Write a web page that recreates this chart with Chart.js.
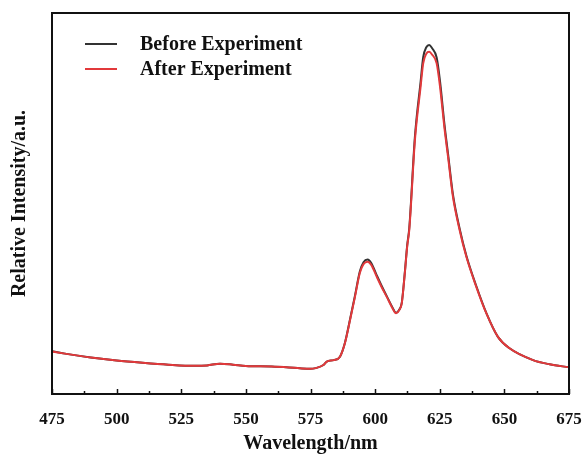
<!DOCTYPE html>
<html lang="en">
<head>
  <meta charset="UTF-8" />
  <title>Emission Spectrum</title>
  <script src="https://cdn.jsdelivr.net/npm/chart.js"></script>
  <style>
    body { margin: 0; background: #fff; }
    #wrap { width: 583px; height: 459px; position: relative; }
  </style>
</head>
<body>
  <div id="wrap"><canvas id="spectrum" width="583" height="459"></canvas></div>
  <script>
    const wavelength = [475, 480, 490, 500, 510, 520, 530, 535, 540, 545, 550, 560, 570, 575, 577, 580,
      581.3, 584, 586.4, 588.3, 590.3, 592.2, 594.1, 595.5, 597.1, 598.5, 600.6, 602.5, 604.5, 606.5,
      608.1, 609.3, 610.3, 611.5, 612.4, 613.2, 615.4, 617.6, 618.6, 619.8, 620.9, 622, 623.8, 625.1,
      626.9, 628.2, 630.1, 632.7, 635.3, 639.1, 643, 647.5, 652, 661.1, 667.5, 675];
    const beforeExp = [11.2, 10.6, 9.6, 8.8, 8.2, 7.7, 7.4, 7.5, 7.95, 7.7, 7.35, 7.2, 6.8, 6.6, 6.8, 7.6,
      8.5, 8.9, 9.8, 13.4, 19.6, 25.8, 32.2, 34.6, 35.3, 34.4, 31.2, 28.4, 25.7, 23, 21.3, 22.1, 23.9,
      32, 39, 43.5, 67.6, 82, 88.4, 91, 91.6, 90.8, 88.3, 82.1, 70.3, 63.1, 52.4, 43.4, 36.3, 28.4, 21.3,
      15, 12, 8.9, 7.8, 7];
    const afterExp = [11.15, 10.6, 9.6, 8.8, 8.2, 7.7, 7.4, 7.5, 7.95, 7.7, 7.35, 7.2, 6.8, 6.6, 6.8, 7.6,
      8.5, 8.9, 9.8, 13.3, 19.4, 25.5, 31.8, 34.1, 34.7, 33.9, 30.8, 28.1, 25.5, 22.8, 21.2, 22, 23.8,
      31.8, 38.7, 43, 66.7, 80.7, 86.8, 89.3, 89.8, 89.1, 86.8, 80.7, 69.3, 62.3, 51.8, 43, 36, 28.2, 21.2,
      15, 12, 8.9, 7.8, 7];
    const seriesNames = ["Before Experiment", "After Experiment"];
    const seriesColors = ["#333333", "#e2393b"];
    const xTicks = [475, 500, 525, 550, 575, 600, 625, 650, 675];

    const serif = "'Liberation Serif', 'Times New Roman', serif";

    // frame, inward ticks and legend inside the plot
    const decor = {
      id: "decor",
      afterDatasetsDraw(chart) {
        const { ctx, chartArea: a, scales } = chart;
        const xs = scales.x;
        ctx.save();
        ctx.strokeStyle = "#111";
        ctx.lineWidth = 2;
        ctx.strokeRect(a.left, a.top, a.right - a.left, a.bottom - a.top);
        ctx.lineWidth = 1.5;
        for (let v = 475; v <= 675; v += 12.5) {
          const px = Math.round(xs.getPixelForValue(v)) + 0.5;
          const len = (v - 475) % 25 === 0 ? 5 : 3;
          ctx.beginPath();
          ctx.moveTo(px, a.bottom);
          ctx.lineTo(px, a.bottom - len);
          ctx.stroke();
        }
        ctx.font = "bold 20px " + serif;
        ctx.textBaseline = "middle";
        chart.data.datasets.forEach((ds, i) => {
          const y = 44 + i * 25;
          ctx.strokeStyle = ds.borderColor;
          ctx.lineWidth = 2;
          ctx.beginPath();
          ctx.moveTo(85, y);
          ctx.lineTo(117, y);
          ctx.stroke();
          ctx.fillStyle = "#111";
          ctx.fillText(ds.label, 140, y + 1);
        });
        ctx.restore();
      }
    };

    const toPoints = vals => wavelength.map((w, i) => ({ x: w, y: vals[i] }));

    new Chart(document.getElementById("spectrum"), {
      type: "line",
      data: {
        datasets: [
          { label: seriesNames[0], data: toPoints(beforeExp), borderColor: seriesColors[0], borderWidth: 2, order: 2 },
          { label: seriesNames[1], data: toPoints(afterExp), borderColor: seriesColors[1], borderWidth: 2, order: 1 }
        ]
      },
      options: {
        responsive: false,
        animation: false,
        layout: { padding: { top: 13, right: 14, left: 0, bottom: 0 } },
        elements: { point: { radius: 0 }, line: { cubicInterpolationMode: "monotone" } },
        plugins: { legend: { display: false }, tooltip: { enabled: false } },
        scales: {
          x: {
            type: "linear",
            min: 475,
            max: 675,
            afterBuildTicks: s => { s.ticks = xTicks.map(v => ({ value: v })); },
            afterFit: s => { s.height = 65; s.paddingLeft = 0; s.paddingRight = 0; },
            grid: { display: false },
            border: { display: false },
            ticks: { color: "#111", padding: 7, maxRotation: 0, font: { family: serif, size: 17, weight: "bold" } },
            title: { display: true, text: "Wavelength/nm", color: "#111", padding: { top: 4, bottom: 3 },
              font: { family: serif, size: 20, weight: "bold" } }
          },
          y: {
            min: 0,
            max: 100,
            afterFit: s => { s.width = 52; },
            grid: { display: false },
            border: { display: false },
            ticks: { display: false },
            title: { display: true, text: "Relative Intensity/a.u.", color: "#111", padding: { top: 8, bottom: 0 },
              font: { family: serif, size: 20, weight: "bold" } }
          }
        }
      },
      plugins: [decor]
    });
  </script>
</body>
</html>
